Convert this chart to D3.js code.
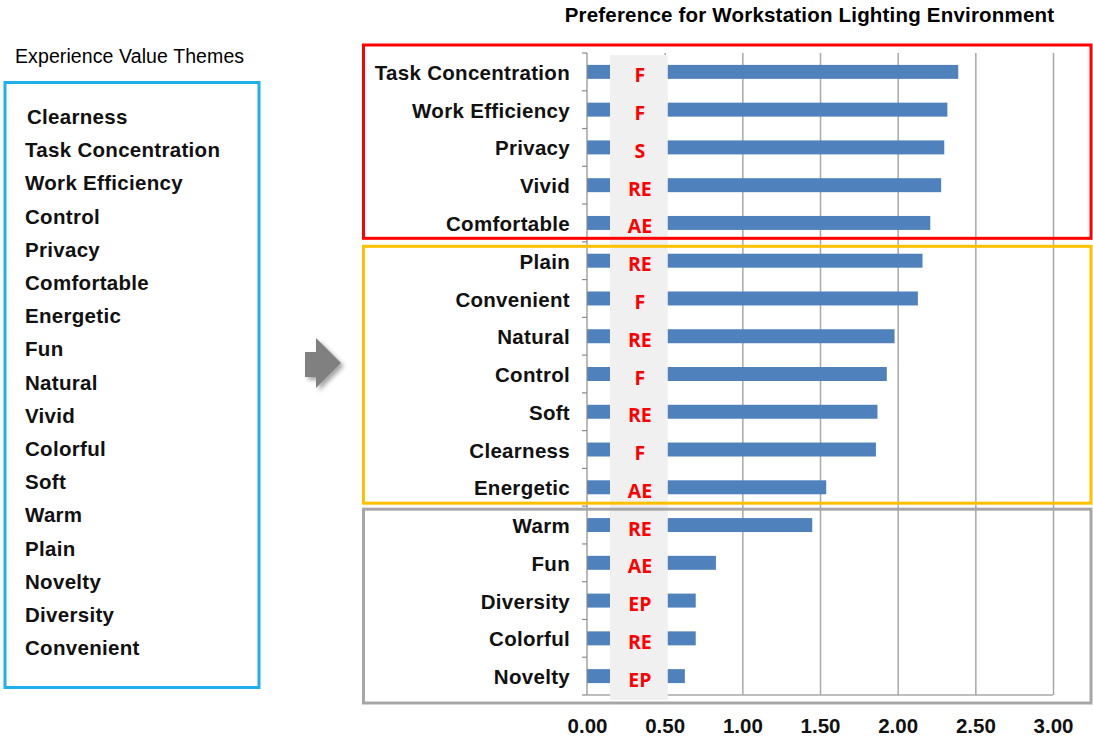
<!DOCTYPE html>
<html>
<head>
<meta charset="utf-8">
<script src="https://cdn.jsdelivr.net/npm/d3@7"></script>
<style>
  html, body { margin: 0; padding: 0; background: #ffffff; }
  svg { display: block; }
</style>
</head>
<body>
<svg id="chart" width="1093" height="740"></svg>
<script>
// ---------------- DATA ----------------
const categories = ["Task Concentration", "Work Efficiency", "Privacy", "Vivid", "Comfortable",
  "Plain", "Convenient", "Natural", "Control", "Soft", "Clearness", "Energetic",
  "Warm", "Fun", "Diversity", "Colorful", "Novelty"];
const values = [2.39, 2.32, 2.30, 2.28, 2.21,
  2.16, 2.13, 1.98, 1.93, 1.87, 1.86, 1.54,
  1.45, 0.83, 0.70, 0.70, 0.63];
const codes = ["F", "F", "S", "RE", "AE",
  "RE", "F", "RE", "F", "RE", "F", "AE",
  "RE", "AE", "EP", "RE", "EP"];
const themes = ["Clearness", "Task Concentration", "Work Efficiency", "Control", "Privacy",
  "Comfortable", "Energetic", "Fun", "Natural", "Vivid", "Colorful", "Soft", "Warm",
  "Plain", "Novelty", "Diversity", "Convenient"];
const xTicks = [0, 0.5, 1.0, 1.5, 2.0, 2.5, 3.0];
const groupFirst = ["Task Concentration", "Plain", "Warm"];
const groupColors = ["#FF0000", "#FFC000", "#A6A6A6"];
const overlayRange = [0.148, 0.52]; // shaded code column, in axis units

const chartTitle = "Preference for Workstation Lighting Environment";
const listTitle = "Experience Value Themes";

// ---------------- LAYOUT ----------------
const svg = d3.select("#chart");
const FONT = "'Liberation Sans', Arial, sans-serif";

const x = d3.scaleLinear().domain([0, 3]).range([587, 1053]);
const y = d3.scaleBand().domain(categories).range([53, 695])
  .paddingInner(0.63).paddingOuter(0.315);
const step = y.step();
const bandTop = c => y(c) - step * 0.315;

// defs: arrow shadow
const defs = svg.append("defs");
const f = defs.append("filter").attr("id", "shadow").attr("x", "-30%").attr("y", "-30%")
  .attr("width", "180%").attr("height", "180%");
f.append("feDropShadow").attr("dx", 3).attr("dy", 3).attr("stdDeviation", 2)
  .attr("flood-color", "#000").attr("flood-opacity", 0.35);

// ---------- chart title ----------
svg.append("text")
  .attr("x", 809.5).attr("y", 22)
  .attr("text-anchor", "middle")
  .attr("font-family", FONT).attr("font-weight", "bold").attr("font-size", 20.5)
  .attr("letter-spacing", 0.2)
  .attr("fill", "#000")
  .text(chartTitle);

// ---------- left list ----------
svg.append("text")
  .attr("x", 15).attr("y", 63)
  .attr("font-family", FONT).attr("font-size", 19.5)
  .attr("letter-spacing", 0.1)
  .attr("fill", "#000")
  .text(listTitle);

svg.append("rect")
  .attr("x", 5).attr("y", 82.5).attr("width", 254).attr("height", 605)
  .attr("fill", "none").attr("stroke", "#1DB0EA").attr("stroke-width", 3);

svg.append("g").selectAll("text").data(themes).join("text")
  .attr("x", (d, i) => i === 0 ? 27 : 25)
  .attr("y", (d, i) => 124 + i * 33.2)
  .attr("font-family", FONT).attr("font-weight", "bold").attr("font-size", 20.5)
  .attr("letter-spacing", 0.3)
  .attr("fill", "#111")
  .text(d => d);

// ---------- arrow ----------
svg.append("polygon")
  .attr("points", "305,352 316,352 316,338 341,363 316,388 316,377 305,377")
  .attr("fill", "#808080")
  .attr("filter", "url(#shadow)");

// ---------- gridlines ----------
svg.append("g").attr("class", "grid")
  .attr("transform", "translate(0,695)")
  .call(d3.axisBottom(x).tickValues(xTicks.slice(1)).tickSize(-(695 - 53)).tickFormat(""))
  .call(g => g.select(".domain").remove())
  .call(g => g.selectAll("line").attr("stroke", "#A8A8A8").attr("stroke-width", 1.5));

// bottom axis line
svg.append("line")
  .attr("x1", x(0)).attr("x2", x(3)).attr("y1", 695).attr("y2", 695)
  .attr("stroke", "#A8A8A8").attr("stroke-width", 1.5);

// ---------- bars ----------
svg.append("g").selectAll("rect").data(categories).join("rect")
  .attr("x", x(0))
  .attr("y", d => y(d))
  .attr("width", (d, i) => x(values[i]) - x(0))
  .attr("height", y.bandwidth())
  .attr("fill", "#4F81BD");

// ---------- y axis line & boundary ticks ----------
svg.append("line")
  .attr("x1", x(0)).attr("x2", x(0)).attr("y1", 53).attr("y2", 695)
  .attr("stroke", "#8C8C8C").attr("stroke-width", 1.2);

const boundaries = categories.map(c => bandTop(c)).concat([695]);
svg.append("g").selectAll("line").data(boundaries).join("line")
  .attr("x1", x(0) - 5).attr("x2", x(0))
  .attr("y1", d => d).attr("y2", d => d)
  .attr("stroke", "#8C8C8C").attr("stroke-width", 1.2);

// ---------- shaded code column ----------
svg.append("rect")
  .attr("x", x(overlayRange[0]))
  .attr("y", 55)
  .attr("width", x(overlayRange[1]) - x(overlayRange[0]))
  .attr("height", 700 - 55)
  .attr("fill", "#F0F0F0");

// ---------- codes ----------
const codeX = (x(overlayRange[0]) + x(overlayRange[1])) / 2;
svg.append("g").selectAll("text").data(categories).join("text")
  .attr("x", codeX + 1)
  .attr("y", d => y(d) + y.bandwidth() / 2 + 10.5)
  .attr("text-anchor", "middle")
  .attr("font-family", "'Open Sans', sans-serif").attr("font-weight", "bold").attr("font-size", 19.5)
  .attr("fill", "#FF0000")
  .text((d, i) => codes[i]);

// ---------- y labels ----------
svg.append("g")
  .attr("transform", `translate(${x(0)},1.5)`)
  .call(d3.axisLeft(y).tickSize(0).tickPadding(17))
  .call(g => g.select(".domain").remove())
  .call(g => g.selectAll("text")
    .attr("font-family", FONT).attr("font-weight", "bold").attr("font-size", 20.5)
    .attr("letter-spacing", 0.3)
    .attr("fill", "#111"));

// ---------- x labels ----------
svg.append("g")
  .attr("transform", "translate(0,695)")
  .call(d3.axisBottom(x).tickValues(xTicks).tickSize(0).tickPadding(23).tickFormat(d3.format(".2f")))
  .call(g => g.select(".domain").remove())
  .call(g => g.selectAll("text")
    .attr("font-family", FONT).attr("font-weight", "bold").attr("font-size", 20.5)
    .attr("fill", "#111"));

// ---------- group boxes ----------
const boxTop = [bandTop(groupFirst[0]) - 8, bandTop(groupFirst[1]) + 4.5, bandTop(groupFirst[2]) + 3];
const boxBottom = [bandTop(groupFirst[1]) - 3.5, bandTop(groupFirst[2]) - 3, 695 + 8];
svg.append("g").selectAll("rect").data(groupColors).join("rect")
  .attr("x", 363.5)
  .attr("y", (d, i) => boxTop[i])
  .attr("width", 1091 - 363.5)
  .attr("height", (d, i) => boxBottom[i] - boxTop[i])
  .attr("fill", "none")
  .attr("stroke", d => d)
  .attr("stroke-width", 3);
</script>
</body>
</html>
